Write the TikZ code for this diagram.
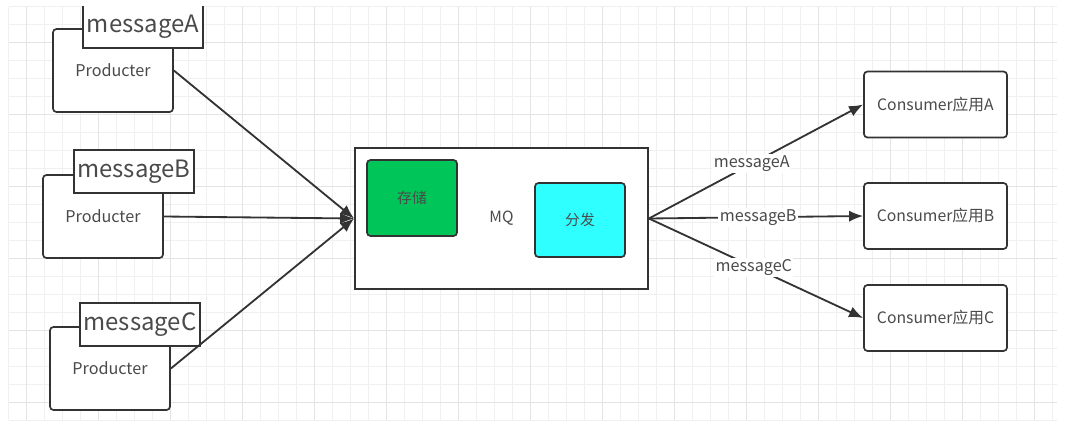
\documentclass[tikz,border=0pt]{standalone}
\usepackage{fontspec}
\setmainfont{Noto Sans CJK SC}
\usetikzlibrary{arrows.meta}
\definecolor{ink}{HTML}{333333}
\definecolor{txt}{HTML}{4A4A4A}
\definecolor{gridc}{HTML}{F0F0F0}
\definecolor{gridm}{HTML}{E4E4E4}
\definecolor{store}{HTML}{00C65A}
\definecolor{dispatch}{HTML}{30FFFF}

\begin{document}
\begin{tikzpicture}[x=0.025cm, y=-0.025cm, >={Latex[length=10pt,width=8pt]},
    box/.style={draw=ink, line width=1.2pt, rounded corners=2.5pt, fill=white, text=txt, inner sep=0pt},
    prodbox/.style={box, minimum width=3cm, minimum height=2.075cm, font=\fontsize{11.5}{13}\selectfont},
    tagbox/.style={draw=ink, line width=1.2pt, fill=white, text=txt, inner sep=0pt,
      minimum width=3cm, minimum height=1.075cm, font=\fontsize{17}{20}\selectfont},
    consbox/.style={box, minimum width=3.575cm, minimum height=1.65cm, font=\fontsize{11.2}{13}\selectfont},
    link/.style={->, draw=ink, line width=1.3pt},
    lbl/.style={fill=white, text=txt, inner sep=1pt, font=\fontsize{11.5}{13}\selectfont}]
  \useasboundingbox (0,0) rectangle (1066,427);
  \begin{scope}
    \clip (0,7) rectangle (1066,427);
    % grid
    \foreach \i in {0,...,58} \draw[gridc, line width=0.5pt] ({8.7+18*\i},7) -- ({8.7+18*\i},420);
    \foreach \j in {0,...,23} \draw[gridc, line width=0.5pt] (9,{6+18*\j}) -- (1057,{6+18*\j});
    \foreach \i in {0,...,14} \draw[gridm, line width=0.6pt] ({26.7+72*\i},7) -- ({26.7+72*\i},420);
    \foreach \j in {0,...,5} \draw[gridm, line width=0.6pt] (9,{42+72*\j}) -- (1057,{42+72*\j});

    % producers
    \node[prodbox] (pa) at (113,70.5) {Producter};
    \node[prodbox] (pb) at (103,216.5) {Producter};
    \node[prodbox] (pc) at (110,368.5) {Producter};
    \node[tagbox] (ta) at (143,26.5) {messageA};
    \node[tagbox] (tb) at (134,171.5) {messageB};
    \node[tagbox] (tc) at (140,324.5) {messageC};

    % MQ
    \node[draw=ink, line width=1.2pt, fill=white, text=txt, minimum width=7.325cm, minimum height=3.525cm,
      font=\fontsize{11}{13}\selectfont] (mq) at (501.5,218.5) {MQ};
    \node[box, fill=store, minimum width=2.25cm, minimum height=1.9cm, font=\fontsize{10.5}{12}\selectfont] (st) at (412,198) {存储};
    \node[box, fill=dispatch, minimum width=2.25cm, minimum height=1.85cm, font=\fontsize{10.5}{12}\selectfont] (ds) at (580,220) {分发};

    % consumers
    \node[consbox] (ca) at (935.5,104.5) {Consumer应用A};
    \node[consbox] (cb) at (935.5,216) {Consumer应用B};
    \node[consbox] (cc) at (935.5,318) {Consumer应用C};

    \foreach \p in {pa,pb,pc} \draw[link] (\p.east) -- (mq.west);
    \draw[link] (mq.east) -- node[lbl, pos=0.48] {messageA} (ca.west);
    \draw[link] (mq.east) -- node[lbl, pos=0.51] {messageB} (cb.west);
    \draw[link] (mq.east) -- node[lbl, pos=0.49] {messageC} (cc.west);
  \end{scope}
\end{tikzpicture}
\end{document}
